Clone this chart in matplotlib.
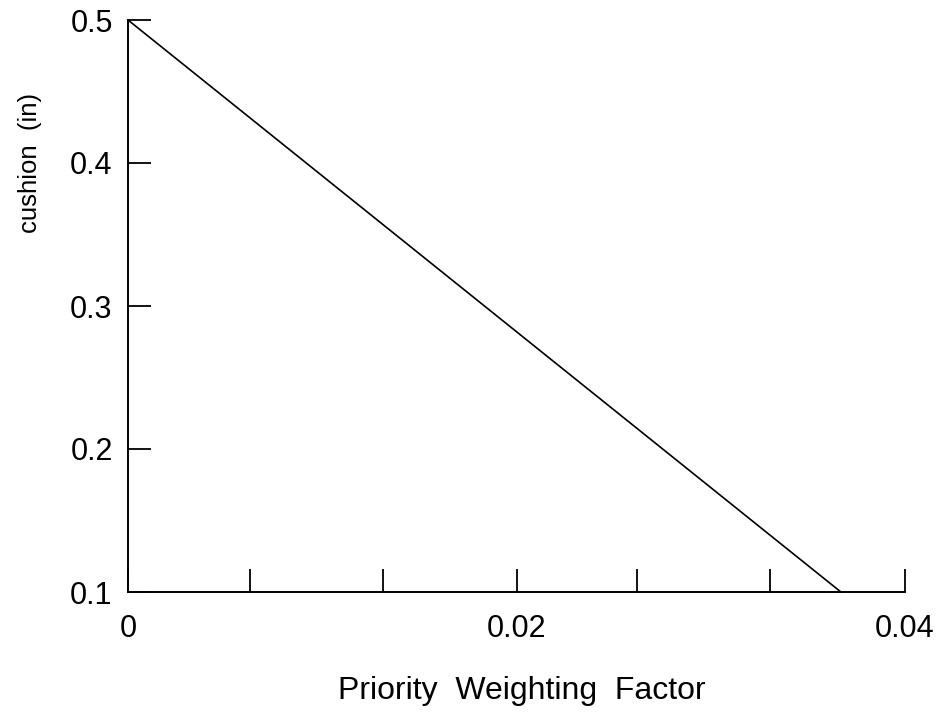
import matplotlib
matplotlib.use("Agg")
import matplotlib.pyplot as plt

# Cushion vs priority weighting factor (straight-line relation)
weight = [0.0, 0.03670]
cushion = [0.5, 0.1]

x_ticks = [0.0, 0.00628, 0.01313, 0.02, 0.0262, 0.03305, 0.04]
x_tick_labels = ["0", "", "", "0.02", "", "", "0.04"]
y_ticks = [0.1, 0.2, 0.3, 0.4, 0.5]
y_tick_labels = ["0.1", "0.2", "0.3", "0.4", "0.5"]

plt.rcParams["font.family"] = ["Liberation Sans", "DejaVu Sans"]

fig = plt.figure(figsize=(9.48, 7.12), dpi=100)
ax = fig.add_axes([128 / 948, 1 - 592 / 712, (905 - 128) / 948, (592 - 20) / 712])

ax.plot(weight, cushion, color="black", lw=1.2, clip_on=False)

ax.set_xlim(0, 0.04)
ax.set_ylim(0.1, 0.5)
for side in ("top", "right"):
    ax.spines[side].set_visible(False)
for side in ("left", "bottom"):
    ax.spines[side].set_linewidth(1.4)

ax.set_xticks(x_ticks)
ax.set_xticklabels(x_tick_labels)
ax.set_yticks(y_ticks)
ax.set_yticklabels(y_tick_labels)
ax.tick_params(axis="both", direction="in", length=16.5, width=1.3,
               labelsize=22)
ax.tick_params(axis="x", pad=16)
ax.tick_params(axis="y", pad=11)

fig.text(522 / 948, 1 - 691 / 712, "Priority  Weighting  Factor",
         ha="center", va="center", fontsize=23)
fig.text(30 / 948, 1 - 163 / 712, "cushion  (in)", ha="center", va="center",
         rotation=90, fontsize=18.5)

fig.savefig("out.png", dpi=100, facecolor="white")
